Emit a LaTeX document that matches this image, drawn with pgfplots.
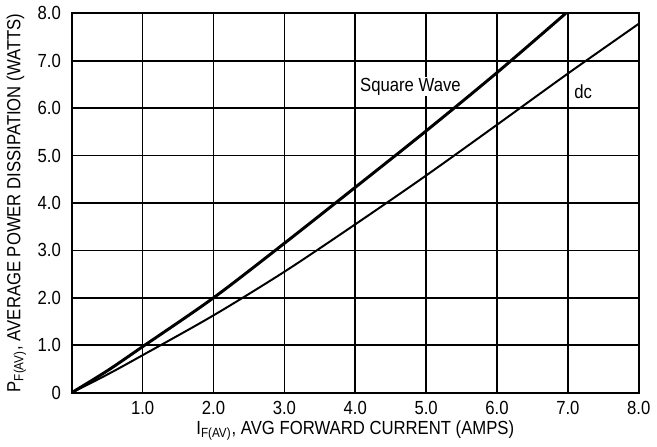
\documentclass[border=0pt]{standalone}
\usepackage{fontspec}
\setmainfont{Liberation Sans}[FakeStretch=0.88]
\usepackage{pgfplots}
\pgfplotsset{compat=1.18}
\begin{document}
\begin{tikzpicture}
\begin{axis}[
  scale only axis, width=287pt, height=192pt,
  xmin=0, xmax=8, ymin=0, ymax=8,
  xtick={0,1,2,3,4,5,6,7,8},
  xticklabels={,1.0,2.0,3.0,4.0,5.0,6.0,7.0,8.0},
  ytick={0,1,2,3,4,5,6,7,8},
  yticklabels={0,1.0,2.0,3.0,4.0,5.0,6.0,7.0,8.0},
  grid=major,
  major grid style={black, line width=0.8pt},
  axis line style={black, line width=1pt},
  major tick length=0pt,
  tick label style={font=\fontsize{9.6}{10}\selectfont},
  xticklabel style={yshift=-1pt},
  yticklabel style={xshift=-2pt},
  label style={font=\fontsize{9.6}{10}\selectfont},
  xlabel={I\textsubscript{F(AV)}, AVG FORWARD CURRENT (AMPS)},
  ylabel={P\textsubscript{F(AV)}, AVERAGE POWER DISSIPATION (WATTS)},
  xlabel style={yshift=4pt},
  ylabel style={yshift=-1pt},
  /pgf/number format/assume math mode=true,
]
\addplot[black, line width=1.5pt, smooth] coordinates {
  (0,0) (0.5,0.46) (1,0.97) (2,2.0) (3,3.15) (4,4.33) (5,5.52) (6,6.75) (6.97,8.0)
};
\addplot[black, line width=1.0pt, smooth] coordinates {
  (0,0) (0.5,0.38) (1,0.79) (2,1.63) (3,2.55) (4,3.55) (5,4.58) (6,5.65) (7,6.73) (8,7.78)
};
\node[anchor=west, fill=white, inner sep=0.5pt, font=\fontsize{9.6}{10}\selectfont] at (axis cs:4.05,6.45) {Square Wave};
\node[anchor=west, fill=white, inner sep=0.5pt, font=\fontsize{9.6}{10}\selectfont] at (axis cs:7.07,6.35) {dc};
\end{axis}
\end{tikzpicture}
\end{document}
